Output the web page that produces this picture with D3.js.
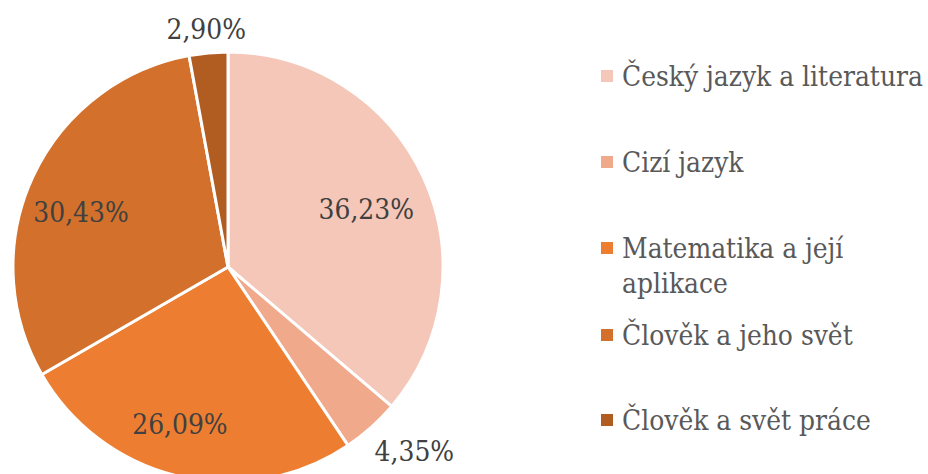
<!DOCTYPE html>
<html><head><meta charset="utf-8">
<script src="https://cdn.jsdelivr.net/npm/d3@7"></script>
<style>body{margin:0;background:#fff}svg{display:block}text{font-family:"DejaVu Serif Condensed","DejaVu Serif",serif;font-stretch:condensed}</style>
</head><body>
<script>
const categories = ["Český jazyk a literatura","Cizí jazyk","Matematika a její aplikace","Člověk a jeho svět","Člověk a svět práce"];
const values = [36.23, 4.35, 26.09, 30.43, 2.90];
const valueLabels = ["36,23%","4,35%","26,09%","30,43%","2,90%"];
const colors = ["#F5C7B8","#F1A98B","#ED7D31","#D2702C","#B15D22"];

const W = 928, H = 474;
const svg = d3.select("body").append("svg").attr("width", W).attr("height", H);
const cx = 228, cy = 267, R = 215;

const probe = svg.append("text").style("font-size", "100px").text("Český jazyk a literatura");
const w100 = probe.node().getComputedTextLength();
probe.remove();
const fs = Math.min(29, 100 * 301 / w100);

const pie = d3.pie().sort(null).value(d => d);
const arcs = pie(values);
const arc = d3.arc().innerRadius(0).outerRadius(R);
const g = svg.append("g").attr("transform", `translate(${cx},${cy})`);
g.selectAll("path").data(arcs).join("path")
  .attr("d", arc).attr("fill", (d,i) => colors[i])
  .attr("stroke", "#fff").attr("stroke-width", 3).attr("stroke-linejoin","round");

// label placement (layout): radius and small angular nudge in degrees
const labelR = [150, 262, 164, 157, 239];
const labelNudge = [2, -3.6, 4, -4.2, 0];
const ang = (d,i) => (d.startAngle + d.endAngle)/2 + labelNudge[i] * Math.PI / 180;
g.selectAll("text.lab").data(arcs).join("text")
  .attr("class","lab")
  .attr("x", (d,i) => labelR[i] * Math.sin(ang(d,i)))
  .attr("y", (d,i) => -labelR[i] * Math.cos(ang(d,i)))
  .attr("dy", "0.35em")
  .attr("text-anchor", "middle")
  .style("font-size", fs + "px").attr("fill", "#404040")
  .text((d,i) => valueLabels[i]);

const legendLines = [["Český jazyk a literatura"],["Cizí jazyk"],["Matematika a její","aplikace"],["Člověk a jeho svět"],["Člověk a svět práce"]];
const baselines = [86, 172, 258, 345, 430];
const lg = svg.append("g");
categories.forEach((c,i) => {
  lg.append("rect").attr("x", 601).attr("y", baselines[i]-16).attr("width", 12).attr("height", 12).attr("fill", colors[i]);
  const t = lg.append("text").attr("x", 622).attr("y", baselines[i])
    .style("font-size", fs + "px").attr("fill", "#595959");
  legendLines[i].forEach((ln,j) => {
    t.append("tspan").attr("x", 622).attr("dy", j === 0 ? 0 : 35).text(ln);
  });
});
</script>
</body></html>
